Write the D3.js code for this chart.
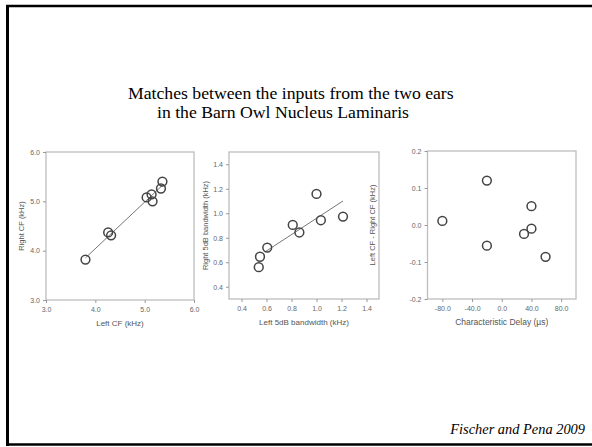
<!DOCTYPE html>
<html><head><meta charset="utf-8">
<script src="https://cdn.jsdelivr.net/npm/d3@7"></script>
<style>html,body{margin:0;padding:0;background:#fff;}svg{display:block;}</style>
</head><body>
<script>
// ---- data ----
const titleLines = ["Matches between the inputs from the two ears", "in the Barn Owl Nucleus Laminaris"];
const citation = "Fischer and Pena 2009";

// Panel A: Left CF vs Right CF (kHz)
const leftCF  = [3.80, 4.26, 4.32, 5.04, 5.14, 5.16, 5.33, 5.36];
const rightCF = [3.82, 4.37, 4.31, 5.08, 5.14, 5.00, 5.26, 5.40];
const cfTicks = [3.0, 4.0, 5.0, 6.0];

// Panel B: Left vs Right 5dB bandwidth (kHz)
const leftBW  = [0.538, 0.548, 0.606, 0.81, 0.863, 1.00, 1.035, 1.212];
const rightBW = [0.56, 0.645, 0.72, 0.905, 0.843, 1.158, 0.943, 0.973];
const bwTicks = [0.4, 0.6, 0.8, 1.0, 1.2, 1.4];
const bwFitStart = 0.59;

// Panel C: Characteristic delay vs CF difference
const charDelay = [-80, -20, -20, 40, 40, 30, 59];
const cfDiff    = [0.011, 0.120, -0.056, 0.051, -0.010, -0.024, -0.086];
const cdTicks   = [-80, -40, 0, 40, 80];
const diffTicks = [-0.2, -0.1, 0.0, 0.1, 0.2];

const W = 592, H = 447;
const svg = d3.select("body").append("svg").attr("width", W).attr("height", H);

// slide frame
svg.append("line").attr("x1", 7.5).attr("x2", 7.5).attr("y1", 5).attr("y2", 446).attr("stroke", "#000").attr("stroke-width", 3);
svg.append("line").attr("x1", 6).attr("x2", W).attr("y1", 6).attr("y2", 6).attr("stroke", "#000").attr("stroke-width", 2.5);
svg.append("line").attr("x1", 6).attr("x2", W).attr("y1", 444.5).attr("y2", 444.5).attr("stroke", "#000").attr("stroke-width", 2.5);

// title
const title = svg.append("g").attr("font-family", "'Liberation Serif','Times New Roman',serif").attr("font-size", 17.7).attr("fill", "#000");
title.append("text").attr("x", 128).attr("y", 99).text(titleLines[0]);
title.append("text").attr("x", 157).attr("y", 118).text(titleLines[1]);

svg.append("text").attr("x", 585).attr("y", 434).attr("text-anchor", "end")
  .attr("font-family", "'Liberation Serif','Times New Roman',serif").attr("font-style", "italic")
  .attr("font-size", 14.4).attr("fill", "#000").text(citation);

function linreg(xs, ys) {
  const n = xs.length, mx = d3.mean(xs), my = d3.mean(ys);
  let sxy = 0, sxx = 0;
  for (let i = 0; i < n; i++) { sxy += (xs[i]-mx)*(ys[i]-my); sxx += (xs[i]-mx)**2; }
  const b = sxy / sxx; return {a: my - b*mx, b};
}

function panel(o) {
  const x = d3.scaleLinear().domain(o.xDomain).range([o.left, o.right]);
  const y = d3.scaleLinear().domain(o.yDomain).range([o.bottom, o.top]);
  const g = svg.append("g");
  g.append("rect").attr("x", o.left).attr("y", o.top).attr("width", o.right - o.left).attr("height", o.bottom - o.top)
    .attr("fill", "none").attr("stroke", "#bdbdbd").attr("stroke-width", 1.3);
  const fmt = d => d.toFixed(1);
  const xa = g.append("g").attr("transform", `translate(0,${o.bottom})`)
    .call(d3.axisBottom(x).tickValues(o.xTicks).tickFormat(fmt).tickSize(3).tickPadding(4));
  const ya = g.append("g").attr("transform", `translate(${o.left},0)`)
    .call(d3.axisLeft(y).tickValues(o.yTicks).tickFormat(fmt).tickSize(3).tickPadding(3));
  [xa, ya].forEach(a => {
    a.select(".domain").remove();
    a.selectAll(".tick line").attr("stroke", "#999");
    a.selectAll(".tick text").attr("fill", "#666").attr("font-size", 7).attr("font-family", "'Liberation Sans',Arial,sans-serif");
  });
  g.append("text").attr("x", (o.left + o.right)/2).attr("y", o.bottom + 26).attr("text-anchor", "middle")
    .attr("font-family", "'Liberation Sans',Arial,sans-serif").attr("font-size", o.xTitleSize || 8).attr("fill", "#555").text(o.xTitle);
  g.append("text").attr("transform", `translate(${o.yTitleX},${(o.top+o.bottom)/2}) rotate(-90)`).attr("text-anchor", "middle")
    .attr("dominant-baseline", "middle")
    .attr("font-family", "'Liberation Sans',Arial,sans-serif").attr("font-size", o.yTitleSize || 7.5).attr("fill", "#555").text(o.yTitle);
  if (o.fit) {
    const r = linreg(o.xs, o.ys);
    const x0 = o.fitStart != null ? o.fitStart : d3.min(o.xs), x1 = d3.max(o.xs);
    g.append("line").attr("x1", x(x0)).attr("y1", y(r.a + r.b*x0)).attr("x2", x(x1)).attr("y2", y(r.a + r.b*x1))
      .attr("stroke", "#777").attr("stroke-width", 1);
  }
  g.selectAll("circle.pt").data(o.xs.map((d, i) => [d, o.ys[i]])).join("circle").attr("class", "pt")
    .attr("cx", d => x(d[0])).attr("cy", d => y(d[1])).attr("r", 4.4)
    .attr("fill", "none").attr("stroke", "#444").attr("stroke-width", 1.5);
}

panel({left: 46, right: 194, top: 152, bottom: 300, xDomain: [3, 6], yDomain: [3, 6],
  xTicks: cfTicks, yTicks: cfTicks, xs: leftCF, ys: rightCF, fit: true,
  xTitle: "Left CF (kHz)", yTitle: "Right CF (kHz)", yTitleX: 22});
panel({left: 229, right: 379, top: 152, bottom: 299, xDomain: [0.3, 1.5], yDomain: [0.3, 1.5],
  xTicks: bwTicks, yTicks: bwTicks, xs: leftBW, ys: rightBW, fit: true, fitStart: bwFitStart,
  xTitle: "Left 5dB bandwidth (kHz)", yTitle: "Right 5dB bandwidth (kHz)", yTitleX: 206});
panel({left: 427.5, right: 576, top: 151, bottom: 299, xDomain: [-100, 100], yDomain: [-0.2, 0.2],
  xTicks: cdTicks, yTicks: diffTicks, xs: charDelay, ys: cfDiff, fit: false,
  xTitle: "Characteristic Delay (\u00b5s)", xTitleSize: 8.5, yTitle: "Left CF - Right CF (kHz)", yTitleX: 373});
</script>
</body></html>
